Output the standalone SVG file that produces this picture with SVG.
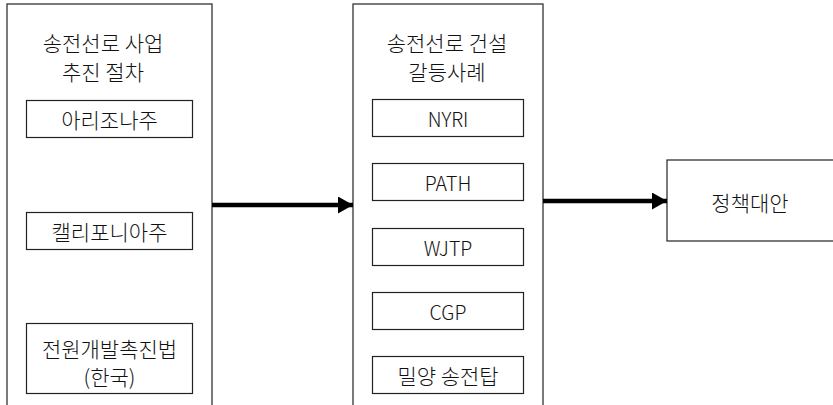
<svg xmlns="http://www.w3.org/2000/svg" width="833" height="405" viewBox="0 0 833 405">
<defs>
<style>
.box{fill:#fff;stroke:#222;stroke-width:1.2}
.t{font-family:"Noto Sans CJK KR","Noto Sans",sans-serif;font-size:21px;font-weight:300;fill:#111;text-anchor:middle;dominant-baseline:central}
.e{font-size:19.5px}
.conn{stroke:#000;stroke-width:4.5;fill:none}
</style>
<marker id="ah" markerUnits="userSpaceOnUse" markerWidth="16" markerHeight="18" refX="15" refY="8.5" orient="auto">
<path d="M0,0 L15,8.5 L0,17 Z" fill="#000"/>
</marker>
</defs>
<rect width="833" height="405" fill="#fff"/>
<g id="procedure">
<rect class="box" x="7" y="4" width="205" height="410"/>
<text class="t" x="103" y="42">송전선로 사업</text>
<text class="t" x="103" y="71">추진 절차</text>
</g>
<g id="arizona">
<rect class="box" x="26.5" y="100.5" width="166" height="37"/>
<text class="t" x="109.5" y="119">아리조나주</text>
</g>
<g id="california">
<rect class="box" x="26.5" y="212.5" width="166" height="37"/>
<text class="t" x="109.5" y="231">캘리포니아주</text>
</g>
<g id="korea-law">
<rect class="box" x="26.5" y="323.5" width="166" height="70"/>
<text class="t" x="109.5" y="348">전원개발촉진법</text>
<text class="t" x="109.5" y="376">(한국)</text>
</g>
<g id="conflicts">
<rect class="box" x="353" y="4" width="190" height="410"/>
<text class="t" x="447" y="42">송전선로 건설</text>
<text class="t" x="447" y="71">갈등사례</text>
</g>
<g id="nyri">
<rect class="box" x="372.5" y="99.5" width="151" height="37"/>
<text class="t e" x="448" y="118">NYRI</text>
</g>
<g id="path">
<rect class="box" x="372.5" y="163.5" width="151" height="37"/>
<text class="t e" x="448" y="182">PATH</text>
</g>
<g id="wjtp">
<rect class="box" x="372.5" y="228.5" width="151" height="37"/>
<text class="t e" x="448" y="247">WJTP</text>
</g>
<g id="cgp">
<rect class="box" x="372.5" y="292.5" width="151" height="37"/>
<text class="t e" x="448" y="311">CGP</text>
</g>
<g id="miryang">
<rect class="box" x="372.5" y="356.5" width="151" height="37"/>
<text class="t" x="448" y="375">밀양 송전탑</text>
</g>
<g id="policy">
<rect class="box" x="667" y="160" width="180" height="81"/>
<text class="t" x="750" y="202">정책대안</text>
</g>
<g id="connectors">
<line class="conn" x1="212" y1="205" x2="353" y2="205" marker-end="url(#ah)"/>
<line class="conn" x1="543" y1="201" x2="667" y2="201" marker-end="url(#ah)"/>
</g>
</svg>
